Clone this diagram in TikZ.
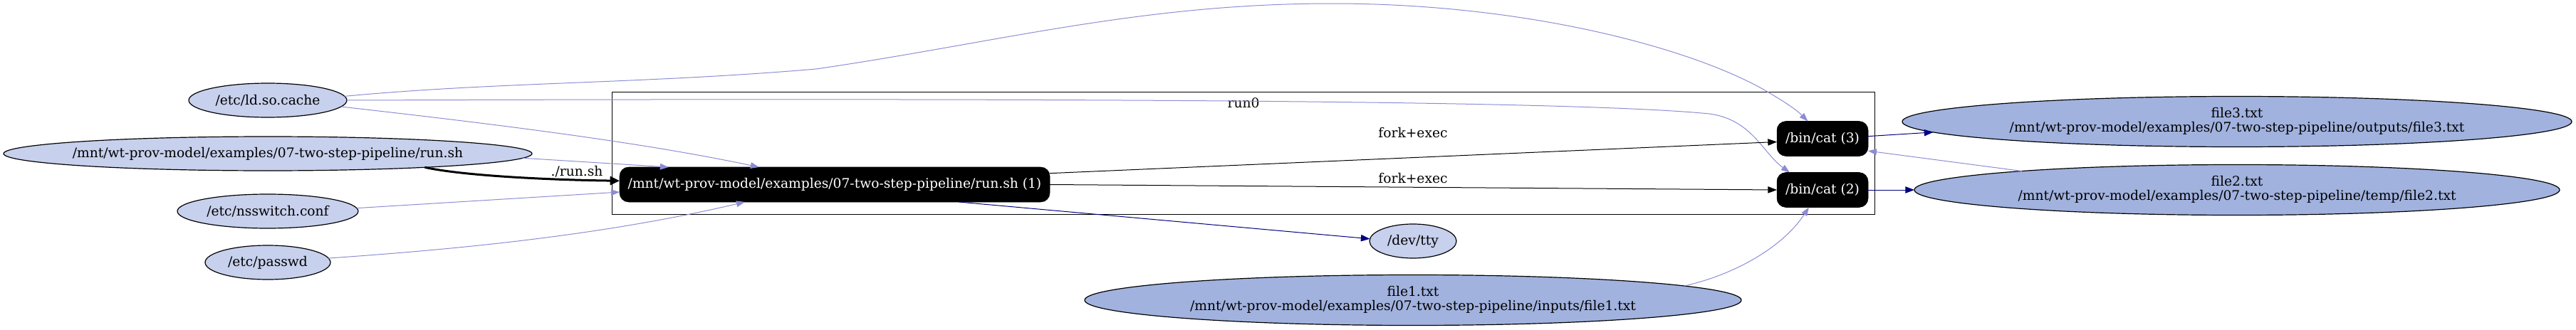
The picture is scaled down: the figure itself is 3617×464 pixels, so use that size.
\documentclass[tikz,border=0pt]{standalone}
\usepackage{fontspec}
\setmainfont{DejaVu Serif}
\usetikzlibrary{arrows.meta,shapes.geometric}
\definecolor{lightfill}{RGB}{199,208,236}
\definecolor{filefill}{RGB}{161,178,222}
\definecolor{readc}{RGB}{140,140,212}
\definecolor{writec}{RGB}{0,0,128}
\newcommand{\zw}[1]{\makebox[0pt]{#1}}
\newcommand{\twol}[2]{\makebox[0pt]{\begin{tabular}{@{}c@{}}#1\\#2\end{tabular}}}
\begin{document}
\begin{tikzpicture}[x=0.75pt,y=-0.75pt,
  every node/.style={font=\fontsize{14}{14.25}\selectfont, inner sep=0pt, outer sep=0pt},
  res/.style={ellipse, draw=black, line width=0.9pt, fill=lightfill, minimum height=36pt},
  fres/.style={ellipse, draw=black, line width=0.9pt, fill=filefill, minimum height=53.25pt},
  proc/.style={rectangle, rounded corners=9.5pt, draw=black, fill=black, text=white, minimum height=36.75pt},
  cluster/.style={rectangle, draw=black, line width=0.75pt},
  elabel/.style={text=black},
  readE/.style={draw=readc, line width=0.75pt, -{Triangle[length=9pt,width=6.5pt]}},
  writeE/.style={draw=writec, line width=0.75pt, -{Triangle[length=9.5pt,width=7pt]}},
  forkE/.style={draw=black, line width=0.75pt, -{Triangle[length=9.5pt,width=7pt]}},
  execE/.style={draw=black, line width=2.25pt, -{Triangle[length=10pt,width=9pt]}},
]
\useasboundingbox (0,0) rectangle (3617,464);

% cluster
\node[cluster, minimum width=1329.75pt, minimum height=129pt] (run0box) at (1745.5,215) {};
\node[elabel] (run0lbl) at (1746,145) {run0};

% resource nodes (left column)
\node[res, minimum width=166.5pt] (ldso) at (376,141) {\zw{/etc/ld.so.cache}};
\node[res, minimum width=556.5pt] (runsh) at (376,216) {\zw{/mnt/wt-prov-model/examples/07-two-step-pipeline/run.sh}};
\node[res, minimum width=190.5pt] (nss) at (376,297) {\zw{/etc/nsswitch.conf}};
\node[res, minimum width=132pt] (passwd) at (376,369) {\zw{/etc/passwd}};

% processes
\node[proc, minimum width=453pt] (proc) at (1172,259.5) {\zw{/mnt/wt-prov-model/examples/07-two-step-pipeline/run.sh (1)}};
\node[proc, minimum width=96pt] (cat3) at (2559,195) {\zw{/bin/cat (3)}};
\node[proc, minimum width=96pt] (cat2) at (2559,267) {\zw{/bin/cat (2)}};

% other files
\node[res, minimum width=91.5pt] (devtty) at (1984,339) {\zw{/dev/tty}};
\node[fres, minimum width=691.5pt] (file1) at (1984,422) {\twol{file1.txt}{/mnt/wt-prov-model/examples/07-two-step-pipeline/inputs/file1.txt}};
\node[fres, minimum width=705pt] (file3) at (3141,171) {\twol{file3.txt}{/mnt/wt-prov-model/examples/07-two-step-pipeline/outputs/file3.txt}};
\node[fres, minimum width=679.5pt] (file2) at (3141,267) {\twol{file2.txt}{/mnt/wt-prov-model/examples/07-two-step-pipeline/temp/file2.txt}};

% edges
\draw[readE] (ldso.3) .. controls (700,115) and (900,118) .. (1146,97)
  .. controls (1400,60) and (1600,5) .. (1870,5)
  .. controls (2150,5) and (2380,70) .. (2480,128)
  .. controls (2500,140) and (2520,152) .. (cat3.130);
\draw[readE] (ldso.east) .. controls (1400,138) and (2200,140) .. (2400,160)
  .. controls (2460,168) and (2475,215) .. (cat2.152);
\draw[readE] (ldso.-5) .. controls (700,175) and (900,200) .. (proc.167.5);
\draw[readE] (runsh.-1.7) -- (proc.174.6);
\draw[execE] (runsh.-5.8) .. controls (650,247) and (770,253) .. (proc.179.1)
  node[elabel] at (810,241) {./run.sh};
\draw[readE] (nss.2) -- (proc.182);
\draw[readE] (passwd.4) .. controls (650,350) and (850,330) .. (proc.191);
\draw[writeE] (proc.-8.4) -- (devtty.177);
\draw[forkE] (proc.3.8) -- (cat3.184) node[elabel] at (1984,187) {fork+exec};
\draw[forkE] (proc.-0.6) -- (cat2.west) node[elabel] at (1984,251) {fork+exec};
\draw[writeE] (cat3.3) -- (file3.182.4);
\draw[writeE] (cat2.east) -- (file2.west);
\draw[readE] (file2.175) -- (cat3.-15);
\draw[readE] (file1.3) .. controls (2440,385) and (2505,345) .. (cat2.232);
\end{tikzpicture}
\end{document}
